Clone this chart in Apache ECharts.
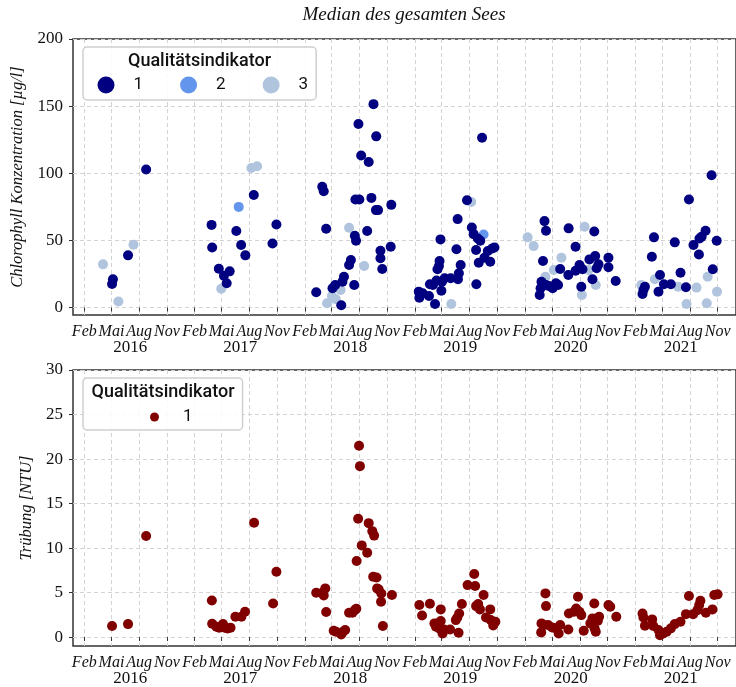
<!DOCTYPE html>
<html>
<head>
<meta charset="utf-8">
<script src="https://cdn.jsdelivr.net/npm/echarts@6/dist/echarts.min.js"></script>
<style>
html,body{margin:0;padding:0;background:#fff;}
#chart{width:736px;height:687px;}
</style>
</head>
<body>
<div id="chart"></div>
<script>
// ---------- DATA ----------
const chartTitle = 'Median des gesamten Sees';
const legendTitle = 'Qualitätsindikator';
const monthNames = ['Feb', 'Mai', 'Aug', 'Nov'];
const monthIndex = [1, 4, 7, 10];
const years = [2016, 2017, 2018, 2019, 2020, 2021];
const chlTicks = [0, 50, 100, 150, 200];
const turbTicks = [0, 5, 10, 15, 20, 25, 30];

// Chlorophyll, Qualitätsindikator 1
const chlQ1 = [
  ['2016-05-06',21.1],['2016-05-03',17.6],['2016-06-25',38.9],['2016-08-24',102.8],
  ['2017-03-29',61.6],['2017-03-31',44.8],['2017-04-22',29.0],['2017-05-09',23.8],['2017-05-18',18.1],
  ['2017-05-28',27.0],['2017-06-19',57.0],['2017-07-05',46.6],['2017-07-19',38.9],['2017-08-16',83.9],
  ['2017-10-17',47.8],['2017-10-30',61.9],
  ['2018-03-11',11.4],['2018-03-31',89.9],['2018-04-05',86.7],['2018-04-13',58.7],['2018-05-04',14.4],
  ['2018-05-13',16.9],['2018-06-02',1.8],['2018-06-06',19.3],['2018-06-11',23.0],['2018-06-28',31.7],
  ['2018-07-04',35.4],['2018-07-15',16.9],['2018-07-17',53.5],['2018-07-21',49.8],['2018-07-19',80.5],
  ['2018-08-01',80.5],['2018-07-29',136.7],['2018-08-07',113.2],['2018-08-27',57.0],['2018-09-01',108.4],
  ['2018-09-10',81.7],['2018-09-17',151.5],['2018-09-26',127.5],['2018-09-25',72.6],['2018-10-02',72.6],
  ['2018-10-10',42.3],['2018-10-10',36.7],['2018-10-16',28.7],['2018-11-15',76.5],['2018-11-13',45.3],
  ['2019-02-14',11.9],['2019-02-16',7.4],['2019-02-27',10.7],['2019-03-20',8.7],['2019-03-23',17.4],
  ['2019-04-02',16.9],['2019-04-09',2.7],['2019-04-14',20.1],['2019-04-17',28.5],['2019-04-22',31.0],
  ['2019-04-24',34.7],['2019-04-27',50.8],['2019-04-30',12.6],['2019-05-02',19.3],['2019-05-11',21.8],
  ['2019-05-31',21.8],['2019-06-19',43.4],['2019-06-23',65.9],['2019-06-24',21.1],['2019-06-27',25.5],
  ['2019-07-03',31.7],['2019-07-24',80.0],['2019-08-09',59.7],['2019-08-15',54.7],['2019-08-23',42.9],
  ['2019-08-24',17.4],['2019-08-29',51.5],['2019-09-06',49.8],['2019-09-12',126.5],['2019-09-01',33.4],
  ['2019-09-20',37.1],['2019-10-01',42.1],['2019-10-09',34.2],['2019-10-16',44.1],['2019-10-23',44.8],
  ['2020-03-21',9.4],['2020-03-24',14.4],['2020-03-27',19.3],['2020-04-01',34.7],['2020-04-06',64.4],
  ['2020-04-11',57.2],['2020-04-11',16.9],['2020-04-20',16.1],['2020-05-03',14.4],['2020-05-14',18.1],
  ['2020-05-21',16.9],['2020-05-28',28.7],['2020-06-24',24.3],['2020-06-25',59.0],['2020-07-18',45.3],
  ['2020-07-18',27.5],['2020-07-31',31.7],['2020-08-06',15.6],['2020-08-10',28.5],['2020-09-02',35.9],
  ['2020-09-12',21.1],['2020-09-18',56.7],['2020-09-21',38.4],['2020-09-26',29.3],['2020-10-02',32.2],
  ['2020-11-04',37.1],['2020-11-04',30.0],['2020-11-28',19.8],
  ['2021-02-25',10.2],['2021-02-28',13.1],['2021-03-05',15.6],['2021-03-28',37.9],['2021-04-04',52.3],
  ['2021-04-19',11.9],['2021-04-24',24.3],['2021-05-07',17.4],['2021-05-30',17.4],['2021-06-12',48.6],
  ['2021-07-01',26.0],['2021-07-19',15.1],['2021-07-29',80.5],['2021-08-13',46.6],['2021-08-31',39.6],
  ['2021-09-02',51.5],['2021-09-09',52.7],['2021-09-22',57.2],['2021-10-12',98.6],['2021-10-16',28.5],
  ['2021-10-29',49.8]
];
// Chlorophyll, Qualitätsindikator 2
const chlQ2 = [['2017-06-27',75.0],['2019-09-17',54.5]];
// Chlorophyll, Qualitätsindikator 3
const chlQ3 = [
  ['2016-04-03',32.2],['2016-05-24',4.5],['2016-07-13',46.8],['2017-04-30',14.1],['2017-08-08',104.0],
  ['2017-08-27',105.2],['2018-04-16',3.3],['2018-05-02',8.7],['2018-05-15',6.2],['2018-05-31',13.1],
  ['2018-06-28',59.4],['2018-08-17',31.0],['2019-06-02',2.7],['2019-08-07',78.7],['2020-02-10',52.3],
  ['2020-03-01',45.8],['2020-04-09',23.0],['2020-05-07',28.0],['2020-06-01',37.1],['2020-08-08',9.4],
  ['2020-08-17',60.2],['2020-08-30',28.0],['2020-09-23',16.9],['2021-02-21',16.9],['2021-04-07',21.1],
  ['2021-06-23',15.6],['2021-07-21',2.7],['2021-08-23',14.9],['2021-09-26',3.3],['2021-09-29',23.0],
  ['2021-10-30',11.9]
];
// Trübung, Qualitätsindikator 1
const turbQ1 = [
  ['2016-05-03',1.24],['2016-06-25',1.46],['2016-08-24',11.35],
  ['2017-03-30',4.12],['2017-03-31',1.5],['2017-04-14',1.16],['2017-04-23',1.05],['2017-05-06',1.46],
  ['2017-05-12',1.05],['2017-05-21',0.97],['2017-05-31',1.05],['2017-06-16',2.28],['2017-07-06',2.28],
  ['2017-07-18',2.85],['2017-08-17',12.85],['2017-10-19',3.78],['2017-10-30',7.34],
  ['2018-03-11',4.98],['2018-03-31',4.98],['2018-04-05',4.68],['2018-04-10',5.47],['2018-04-13',2.81],
  ['2018-05-08',0.71],['2018-05-16',0.6],['2018-06-02',0.3],['2018-06-08',0.6],['2018-06-15',0.79],
  ['2018-06-28',2.73],['2018-07-09',2.73],['2018-07-17',3.03],['2018-07-22',3.18],['2018-07-23',8.54],
  ['2018-07-28',13.3],['2018-07-31',21.5],['2018-08-03',19.2],['2018-08-09',10.3],['2018-08-27',9.48],
  ['2018-09-01',12.8],['2018-09-13',11.9],['2018-09-19',11.4],['2018-09-16',6.78],['2018-09-27',6.7],
  ['2018-09-29',5.47],['2018-10-04',5.36],['2018-10-13',4.9],['2018-10-12',3.97],['2018-10-18',1.24],
  ['2018-11-17',4.72],
  ['2019-02-16',3.6],['2019-02-25',2.43],['2019-03-23',3.74],['2019-04-07',1.54],['2019-04-12',1.16],
  ['2019-04-17',1.54],['2019-04-23',0.98],['2019-04-28',3.11],['2019-04-28',1.8],['2019-05-04',0.41],
  ['2019-05-09',0.86],['2019-05-29',0.86],['2019-06-17',1.91],['2019-06-22',2.21],['2019-06-28',2.66],
  ['2019-06-26',0.48],['2019-07-07',3.71],['2019-07-26',5.84],['2019-08-17',7.08],['2019-08-20',5.73],
  ['2019-08-23',3.48],['2019-08-30',3.71],['2019-09-05',3.11],['2019-09-17',4.72],['2019-09-25',2.21],
  ['2019-10-09',3.11],['2019-10-11',1.91],['2019-10-19',1.31],['2019-10-26',1.72],
  ['2020-04-09',4.91],['2020-04-11',3.48],['2020-03-27',1.54],['2020-03-26',0.53],['2020-04-04',1.35],
  ['2020-04-18',1.35],['2020-05-01',1.09],['2020-05-14',0.98],['2020-05-23',0.41],['2020-05-28',1.35],
  ['2020-06-24',0.86],['2020-06-26',2.66],['2020-07-13',2.85],['2020-07-20',3.22],['2020-07-26',4.53],
  ['2020-07-31',2.85],['2020-08-06',2.47],['2020-08-14',0.71],['2020-09-05',1.54],['2020-09-12',2.1],
  ['2020-09-18',3.78],['2020-09-19',0.98],['2020-09-23',0.6],['2020-09-30',1.83],['2020-10-04',2.28],
  ['2020-11-04',3.6],['2020-11-10',3.4],['2020-11-30',2.28],
  ['2021-02-25',2.66],['2021-02-28',2.21],['2021-03-05',1.27],['2021-03-29',1.99],['2021-04-02',1.24],
  ['2021-04-19',0.79],['2021-04-24',0.22],['2021-05-05',0.41],['2021-05-16',0.6],['2021-05-30',0.98],
  ['2021-06-12',1.46],['2021-07-01',1.72],['2021-07-19',2.58],['2021-07-29',4.61],['2021-08-12',2.58],
  ['2021-08-26',3.03],['2021-09-01',3.6],['2021-09-05',4.08],['2021-09-23',2.73],['2021-10-15',3.11],
  ['2021-10-21',4.72],['2021-11-01',4.8]
];

// ---------- CHART ----------
const serif = '"Liberation Serif", "DejaVu Serif", serif';
const sans = 'Roboto, "Noto Sans", sans-serif';
function ts(s) { const p = s.split('-').map(Number); return new Date(p[0], p[1] - 1, p[2]).getTime(); }
function toPoints(arr) { return arr.map(d => [ts(d[0]), d[1]]); }
const xMin = new Date(2015, 11, 25, 12).getTime();
const xMax = new Date(2022, 0, 1).getTime();
const monthTicks = [];
years.forEach(y => monthIndex.forEach(m => monthTicks.push(new Date(y, m, 1).getTime())));
const yearTicks = years.map(y => new Date(y, 6, 2).getTime());

function monthAxis(gridIndex) {
  return {
    type: 'value', gridIndex, min: xMin, max: xMax, scale: true,
    axisLine: { show: false },
    axisTick: { show: true, length: 4, customValues: monthTicks, lineStyle: { color: '#333', width: 1 } },
    axisLabel: {
      customValues: monthTicks, margin: 9, color: '#111',
      fontFamily: serif, fontStyle: 'italic', fontSize: 16,
      formatter: v => monthNames[monthIndex.indexOf(new Date(v).getMonth())]
    },
    splitLine: { show: true, lineStyle: { color: '#d3d3d3', type: [4, 3], width: 1 } }
  };
}
function yearAxis(gridIndex) {
  return {
    type: 'value', gridIndex, min: xMin, max: xMax, scale: true, position: 'bottom',
    axisLine: { show: false }, axisTick: { show: false, customValues: yearTicks }, splitLine: { show: false },
    axisLabel: {
      customValues: yearTicks, margin: 24, color: '#111',
      fontFamily: serif, fontSize: 17,
      formatter: v => String(new Date(v).getFullYear())
    }
  };
}
function valAxis(gridIndex, min, max, ticks, name, gap) {
  return {
    type: 'value', gridIndex, min, max,
    name, nameLocation: 'middle', nameGap: gap,
    nameTextStyle: { fontFamily: serif, fontStyle: 'italic', fontSize: 16.5, color: '#111' },
    axisLine: { show: false },
    axisTick: { show: true, length: 4, customValues: ticks, lineStyle: { color: '#333' } },
    axisLabel: { customValues: ticks, margin: 10, fontFamily: serif, fontSize: 17, color: '#111' },
    splitLine: { show: true, lineStyle: { color: '#d3d3d3', type: [4, 3], width: 1 } }
  };
}

const chart = echarts.init(document.getElementById('chart'), null, { renderer: 'canvas' });
chart.setOption({
  animation: false,
  backgroundColor: '#fff',
  title: [
    { text: chartTitle, left: 404, top: 15, padding: 0, textAlign: 'center', textVerticalAlign: 'middle',
      textStyle: { fontFamily: serif, fontStyle: 'italic', fontWeight: 'normal', fontSize: 19, color: '#111' } },
    { text: legendTitle, left: 199.5, top: 61, padding: 0, textAlign: 'center', textVerticalAlign: 'middle',
      textStyle: { fontFamily: sans, fontWeight: 500, fontSize: 18, color: '#111' } },
    { text: legendTitle, left: 163, top: 392, padding: 0, textAlign: 'center', textVerticalAlign: 'middle',
      textStyle: { fontFamily: sans, fontWeight: 500, fontSize: 18, color: '#111' } }
  ],
  grid: [
    { left: 73, top: 39, width: 665, height: 276, show: true, borderColor: '#333', borderWidth: 1.5, backgroundColor: 'transparent' },
    { left: 73, top: 370, width: 665, height: 276, show: true, borderColor: '#333', borderWidth: 1.5, backgroundColor: 'transparent' }
  ],
  xAxis: [monthAxis(0), yearAxis(0), monthAxis(1), yearAxis(1)],
  yAxis: [
    valAxis(0, -5.5, 200, chlTicks, 'Chlorophyll Konzentration [µg/l]', 45.5),
    valAxis(1, -1, 30, turbTicks, 'Trübung [NTU]', 36.5)
  ],
  legend: [
    { data: ['1', '2', '3'], left: 83, top: 47, orient: 'horizontal',
      padding: [29, 8, 6, 14.5], itemGap: 37, itemWidth: 17, itemHeight: 17, icon: 'circle',
      borderColor: '#cfcfcf', borderWidth: 1.5, borderRadius: 4, backgroundColor: 'rgba(255,255,255,0.85)',
      textStyle: { fontFamily: sans, fontSize: 17, color: '#111', lineHeight: 18, padding: [0, 0, 0, 14] } },
    { data: ['T1'], left: 83, top: 378, orient: 'horizontal',
      padding: [30, 50, 4, 67], itemWidth: 9, itemHeight: 9, icon: 'circle',
      borderColor: '#cfcfcf', borderWidth: 1.5, borderRadius: 4, backgroundColor: 'rgba(255,255,255,0.85)',
      formatter: () => '1',
      textStyle: { fontFamily: sans, fontSize: 17, color: '#111', lineHeight: 18, padding: [0, 0, 0, 19] } }
  ],
  series: [
    { name: '3', type: 'scatter', xAxisIndex: 0, yAxisIndex: 0, data: toPoints(chlQ3), symbolSize: 10,
      itemStyle: { color: '#b0c4de', opacity: 1 } },
    { name: '2', type: 'scatter', xAxisIndex: 0, yAxisIndex: 0, data: toPoints(chlQ2), symbolSize: 10,
      itemStyle: { color: '#6495ed', opacity: 1 } },
    { name: '1', type: 'scatter', xAxisIndex: 0, yAxisIndex: 0, data: toPoints(chlQ1), symbolSize: 10,
      itemStyle: { color: '#000080', opacity: 1 } },
    { name: 'T1', type: 'scatter', xAxisIndex: 2, yAxisIndex: 1, data: toPoints(turbQ1), symbolSize: 10,
      itemStyle: { color: '#800000', opacity: 1 } }
  ]
});
</script>
</body>
</html>
